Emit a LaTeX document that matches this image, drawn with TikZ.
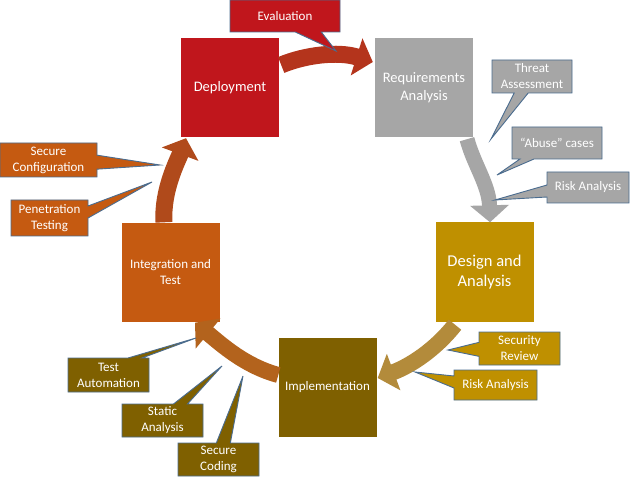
\documentclass[tikz,border=0pt]{standalone}
\usepackage{fontspec}
\setmainfont{Carlito}
\usetikzlibrary{arrows.meta,shapes.callouts,calc}
\definecolor{cred}{HTML}{C0161C}
\definecolor{cgrey}{HTML}{A6A6A6}
\definecolor{cgold}{HTML}{BF9000}
\definecolor{colive}{HTML}{7F6000}
\definecolor{corange}{HTML}{C55A11}
\definecolor{aone}{HTML}{B4341C}
\definecolor{atwo}{HTML}{A6A6A6}
\definecolor{athree}{HTML}{B38B3B}
\definecolor{afour}{HTML}{B3631D}
\definecolor{afive}{HTML}{B04A1B}
\definecolor{cline}{HTML}{4A6C8F}
\tikzset{
  stage/.style={minimum width=98pt, minimum height=99pt, inner sep=0pt, text=white, align=center, font=\fontsize{14.5}{18}\selectfont},
  note/.style={rectangle callout, draw=cline, line width=0.9pt, text=white, align=center, inner sep=0pt, font=\fontsize{13}{16}\selectfont},
  flow/.style={line width=17pt, -{Triangle[length=17pt,width=38pt]}},
}
\begin{document}
\begin{tikzpicture}[x=1pt,y=-1pt]
\useasboundingbox[fill=white] (0,0) rectangle (630,484);
% stage boxes
\node[stage, fill=cred] (deploy) at (230,87.5) {Deployment};
\node[stage, fill=cgrey] (req) at (424,87.5) {Requirements\\Analysis};
\node[stage, fill=cgold, font=\fontsize{16.5}{20}\selectfont] (design) at (484.5,272) {Design and\\Analysis};
\node[stage, fill=colive, font=\fontsize{13}{16}\selectfont] (impl) at (327.5,387) {Implementation};
\node[stage, fill=corange, font=\fontsize{13}{16}\selectfont] (integ) at (170.5,272.5) {Integration and\\Test};
% flow arrows
\draw[flow, aone] ([shift={(2,-22.5)}]deploy.east) .. controls (305,55) and (338,51) .. ([shift={(-2,-25.5)}]req.west);
\draw[flow, atwo, line width=15pt] ([shift={(43,2)}]req.south) .. controls (474,165) and (489,185) .. ([shift={(5.5,0)}]design.north);
\draw[flow, athree, line width=16pt] ([shift={(-29.5,3)}]design.south) .. controls (435,350) and (410,366) .. ([shift={(1,-9)}]impl.east);
\draw[flow, afour, line width=16pt] ([shift={(0,-12)}]impl.west) .. controls (245,366) and (222,345) .. ([shift={(24.5,0.5)}]integ.south);
\draw[flow, afive] ([shift={(-6.5,-0.5)}]integ.north) .. controls (162,190) and (178,160) .. ([shift={(-44,1)}]deploy.south);
% callouts
\node[note, fill=cred, minimum width=110pt, minimum height=32pt, callout pointer width=26pt, callout absolute pointer={(336,51)}] (eval) at (285,16) {Evaluation};
\node[note, fill=cgrey, minimum width=80pt, minimum height=33pt, callout pointer width=14pt, callout absolute pointer={(491,139)}] (threat) at (532,76.5) {Threat\\Assessment};
\node[note, fill=cgrey, minimum width=90pt, minimum height=32pt, callout pointer width=14pt, callout absolute pointer={(497,175)}] (abuse) at (557,143) {“Abuse” cases};
\node[note, fill=cgrey, minimum width=82pt, minimum height=31pt, callout pointer width=12pt, callout absolute pointer={(495,200)}] (riskg) at (588,187.5) {Risk Analysis};
\node[note, fill=corange, minimum width=97pt, minimum height=34pt, callout pointer width=14pt, callout absolute pointer={(160,165)}] (seccfg) at (48.5,160) {Secure\\Configuration};
\node[note, fill=corange, minimum width=77pt, minimum height=36pt, callout pointer width=12pt, callout absolute pointer={(152,182)}] (pentest) at (49.5,218) {Penetration\\Testing};
\node[note, fill=colive, minimum width=81pt, minimum height=34pt, callout pointer width=14pt, callout absolute pointer={(196,338)}] (testauto) at (108.5,375) {Test\\Automation};
\node[note, fill=colive, minimum width=81pt, minimum height=33pt, callout pointer width=14pt, callout absolute pointer={(222,366)}] (static) at (162.5,420.5) {Static\\Analysis};
\node[note, fill=colive, minimum width=81pt, minimum height=33pt, callout pointer width=14pt, callout absolute pointer={(243,376)}] (seccode) at (218.5,459.5) {Secure\\Coding};
\node[note, fill=cgold, minimum width=81pt, minimum height=33pt, callout pointer width=14pt, callout absolute pointer={(448,350)}] (secrev) at (519.5,348.5) {Security\\Review};
\node[note, fill=cgold, minimum width=83pt, minimum height=30pt, callout pointer width=12pt, callout absolute pointer={(415,372)}] (riskd) at (495.5,385) {Risk Analysis};
\end{tikzpicture}
\end{document}
